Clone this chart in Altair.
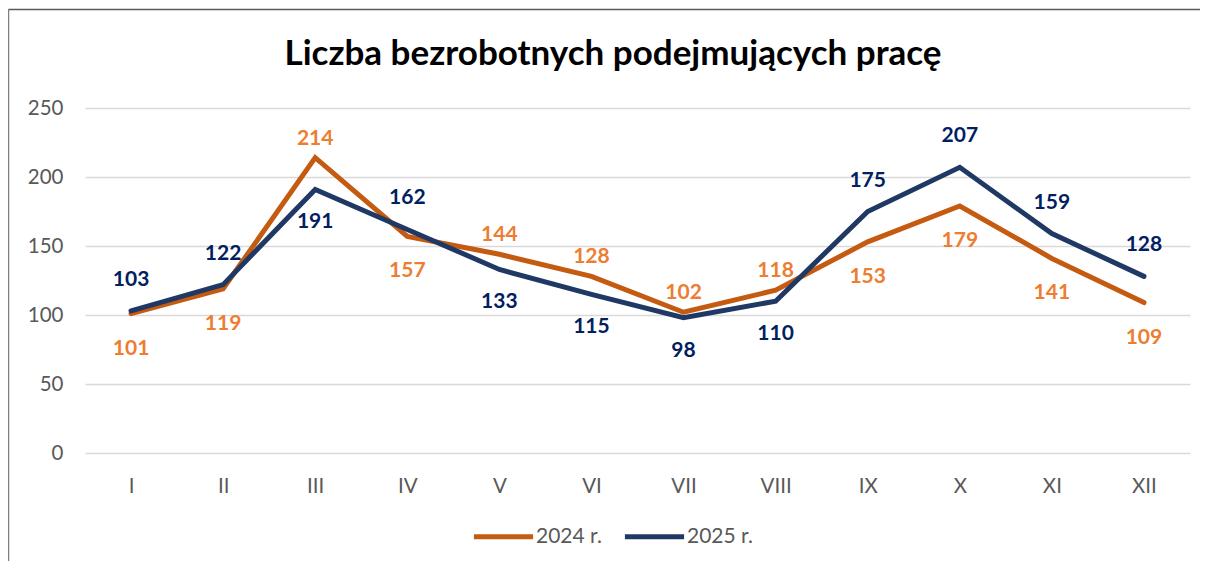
import altair as alt
import pandas as pd

months = ["I", "II", "III", "IV", "V", "VI", "VII", "VIII", "IX", "X", "XI", "XII"]
series_names = ["2024 r.", "2025 r."]
v2024 = [101, 119, 214, 157, 144, 128, 102, 118, 153, 179, 141, 109]
v2025 = [103, 122, 191, 162, 133, 115, 98, 110, 175, 207, 159, 128]
y_ticks = [0, 50, 100, 150, 200, 250]
title_text = "Liczba bezrobotnych podejmujących pracę"

line_colors = ["#C55A11", "#203864"]
label_colors = ["#ED7D31", "#002060"]

rows = []
for m, a, b in zip(months, v2024, v2025):
    rows.append({"month": m, "series": series_names[0], "value": a, "other": b})
    rows.append({"month": m, "series": series_names[1], "value": b, "other": a})
df = pd.DataFrame(rows)

FONT = "Lato"

x_enc = alt.X(
    "month:N", sort=months,
    axis=alt.Axis(title=None, labelAngle=0, ticks=False, domain=False, grid=False,
                  labelPadding=23, labelFontSize=20.5, labelColor="#595959", labelFont=FONT),
)
y_enc = alt.Y(
    "value:Q",
    scale=alt.Scale(domain=[0, 250], nice=False, zero=True),
    axis=alt.Axis(title=None, values=y_ticks, ticks=False, domain=False,
                  gridColor="#D9D9D9", gridWidth=1.5, labelPadding=22,
                  labelFontSize=20.5, labelColor="#595959", labelFont=FONT),
)

lines = alt.Chart(df).mark_line(strokeWidth=5, strokeCap="round").encode(
    x=x_enc,
    y=y_enc,
    color=alt.Color(
        "series:N",
        scale=alt.Scale(domain=series_names, range=line_colors),
        legend=alt.Legend(
            title=None, orient="none", direction="horizontal",
            legendX=386, legendY=396,
            symbolType="stroke", symbolSize=3500, symbolStrokeWidth=5,
            labelFontSize=21, labelColor="#595959", labelFont=FONT,
            labelOffset=0, columnPadding=12,
        ),
    ),
)

label_color = alt.Color(
    "series:N", scale=alt.Scale(domain=series_names, range=label_colors), legend=None
)

# label placement: higher series above its point, lower series below
label_dy = {
    (series_names[0], "above"): -19,
    (series_names[0], "below"): 35,
    (series_names[1], "above"): -31,
    (series_names[1], "below"): 33,
}

label_layers = []
for (s, side), dy in label_dy.items():
    cond = "datum.value >= datum.other" if side == "above" else "datum.value < datum.other"
    label_layers.append(
        alt.Chart(df)
        .transform_filter(f"datum.series == '{s}' && {cond}")
        .mark_text(font=FONT, fontSize=21, fontWeight="bold", dy=dy, baseline="middle")
        .encode(x=alt.X("month:N", sort=months), y="value:Q", text="value:Q", color=label_color)
    )

one = pd.DataFrame({"t": [title_text]})
title = alt.Chart(one).mark_text(
    font=FONT, fontSize=35, fontWeight="bold", color="#000000", baseline="alphabetic", align="center"
).encode(text="t:N", x=alt.value(528), y=alt.value(-43))

frame_left = alt.Chart(one).mark_rule(color="#7F7F7F", strokeWidth=1.5).encode(
    x=alt.value(-76.5), y=alt.value(-98.5), y2=alt.value(470)
)
frame_top = alt.Chart(one).mark_rule(color="#595959", strokeWidth=1.5).encode(
    x=alt.value(-76.5), x2=alt.value(1115), y=alt.value(-98.5)
)

chart = (
    alt.layer(lines, *label_layers, title, frame_left, frame_top)
    .resolve_scale(color="independent")
    .properties(
        width=1105,
        height=345,
        autosize=alt.AutoSizeParams(type="none"),
        padding={"left": 77, "top": 100, "right": 10, "bottom": 108},
        background="white",
    )
    .configure_view(stroke=None)
)

chart.save("out.html", embed_options={"renderer": "svg", "actions": False})
